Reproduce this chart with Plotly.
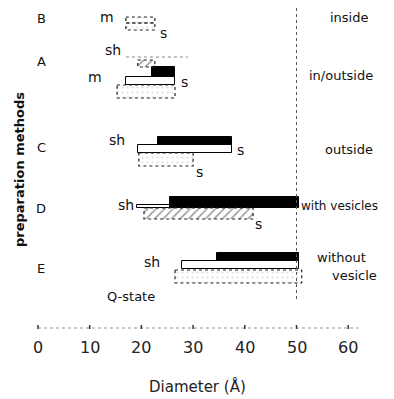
import plotly.graph_objects as go

# ---------------- data (diameters in Å) ----------------
solid_groups = ["A", "C", "D", "E"]
solid_start = [22.0, 23.2, 25.5, 34.6]
solid_end = [26.5, 37.5, 50.5, 50.5]

open_groups = ["A", "C", "D", "E"]
open_start = [17.0, 19.3, 19.2, 27.8]
open_end = [26.5, 37.5, 50.5, 50.5]

dotted_groups = ["B-m", "B-s", "A", "C", "E"]
dotted_start = [17.0, 17.0, 15.3, 19.5, 26.5]
dotted_end = [22.6, 22.6, 26.5, 30.0, 51.0]

hatched_groups = ["A", "D"]
hatched_start = [19.3, 20.5]
hatched_end = [22.6, 41.6]

q_state = 50.0
x_ticks = [0, 10, 20, 30, 40, 50, 60]
method_letters = ["B", "A", "C", "D", "E"]
region_labels = ["inside", "in/outside", "outside", "with vesicles", "without", "vesicle"]

# ---------------- layout positions (pixel rows, top/bottom) ----------------
W, H = 394, 399
PX0, PXU = 38.0, 5.17          # pixel of x=0, pixels per Å
def px2x(px):
    return (px - PX0) / PXU

solid_rows = {"A": (67, 77), "C": (137, 145), "D": (197, 208), "E": (253, 261)}
open_rows = {"A": (77, 85), "C": (145, 153), "D": (205, 208), "E": (261, 269)}
dotted_rows = {"B-m": (17, 23), "B-s": (23, 30), "A": (85, 98), "C": (153, 166), "E": (270, 283)}
hatched_rows = {"A": (60, 67), "D": (208, 219)}

fig = go.Figure()

def add_bars(groups, starts, ends, rows, **marker):
    ys = [(rows[g][0] + rows[g][1]) / 2 for g in groups]
    ws = [rows[g][1] - rows[g][0] for g in groups]
    fig.add_trace(go.Bar(
        orientation="h", y=ys, width=ws, base=starts,
        x=[e - s for s, e in zip(starts, ends)],
        marker=marker, showlegend=False, hoverinfo="skip"))

add_bars(open_groups, open_start, open_end, open_rows,
         color="white", line=dict(color="black", width=1))
add_bars(dotted_groups, dotted_start, dotted_end, dotted_rows,
         color="white", line=dict(width=0),
         pattern=dict(shape=".", fgcolor="#bbbbbb", size=5, solidity=0.15))
add_bars(hatched_groups, hatched_start, hatched_end, hatched_rows,
         color="white", line=dict(width=0),
         pattern=dict(shape="/", fgcolor="#333333", size=6, solidity=0.25))
add_bars(solid_groups, solid_start, solid_end, solid_rows,
         color="black", line=dict(color="black", width=1))

shapes = []
# dotted outlines for dotted and hatched bars
for groups, starts, ends, rows in [(dotted_groups, dotted_start, dotted_end, dotted_rows),
                                   (hatched_groups, hatched_start, hatched_end, hatched_rows)]:
    for g, s, e in zip(groups, starts, ends):
        shapes.append(dict(type="rect", xref="x", yref="y", x0=s, x1=e,
                           y0=rows[g][0], y1=rows[g][1],
                           line=dict(color="#222222", width=1.2, dash="dot")))
# faint sh line in A
shapes.append(dict(type="line", xref="x", yref="y", x0=open_start[0], x1=29, y0=57, y1=57,
                   line=dict(color="#888888", width=1, dash="dot")))
# Q-state vertical line
shapes.append(dict(type="line", xref="x", yref="y", x0=q_state, x1=q_state, y0=8, y1=300,
                   line=dict(color="#555555", width=1, dash="dot")))
# x axis dotted line
shapes.append(dict(type="line", xref="x", yref="y", x0=0, x1=62, y0=328, y1=328,
                   line=dict(color="#999999", width=1, dash="dot")))

ann = []
def txt(px, py, t, size=14, **kw):
    ann.append(dict(x=px2x(px), y=py, xref="x", yref="y", text=t, showarrow=False,
                    font=dict(family="DejaVu Sans", size=size, color="#111111"), **kw))

letter_px = [(41, 18), (41, 61), (41, 147), (41, 208), (41, 268)]
for (px, py), t in zip(letter_px, method_letters):
    txt(px, py, t, size=13)

for px, py, t in [(107, 17, "m"), (163, 33, "s"), (113, 50, "sh"), (95, 77, "m"),
                  (184, 82, "s"), (117, 140, "sh"), (240, 150, "s"), (199, 172, "s"),
                  (126, 205, "sh"), (258, 224, "s"), (152, 262, "sh")]:
    txt(px, py, t, size=14)
txt(131, 296, "Q-state", size=13)

reg_px = [(349, 17), (341, 75), (349, 149), (339, 206), (341, 257), (354, 275)]
reg_size = [13, 13, 13, 12, 13, 13]
for (px, py), t, sz in zip(reg_px, region_labels, reg_size):
    txt(px, py, t, size=sz)

# tick labels
for v in x_ticks:
    ann.append(dict(x=v, y=347, xref="x", yref="y", text=str(v), showarrow=False,
                    font=dict(family="DejaVu Sans", size=16, color="#222222")))
    shapes.append(dict(type="line", xref="x", yref="y", x0=v, x1=v, y0=325, y1=329,
                       line=dict(color="#333333", width=1.5)))

ann.append(dict(x=px2x(197), y=386, xref="x", yref="y", text="Diameter (Å)", showarrow=False,
                font=dict(family="DejaVu Sans", size=15, color="#222222")))
ann.append(dict(x=px2x(19), y=170, xref="x", yref="y", text="<b>preparation methods</b>",
                showarrow=False, textangle=-90,
                font=dict(family="DejaVu Sans", size=13, color="#111111")))

fig.update_layout(
    width=W, height=H, margin=dict(l=0, r=0, t=0, b=0),
    paper_bgcolor="white", plot_bgcolor="white",
    barmode="overlay", bargap=0,
    shapes=shapes, annotations=ann,
    xaxis=dict(range=[px2x(0), px2x(W)], visible=False, fixedrange=True),
    yaxis=dict(range=[H, 0], visible=False, fixedrange=True),
)

fig.write_html("out.html")
